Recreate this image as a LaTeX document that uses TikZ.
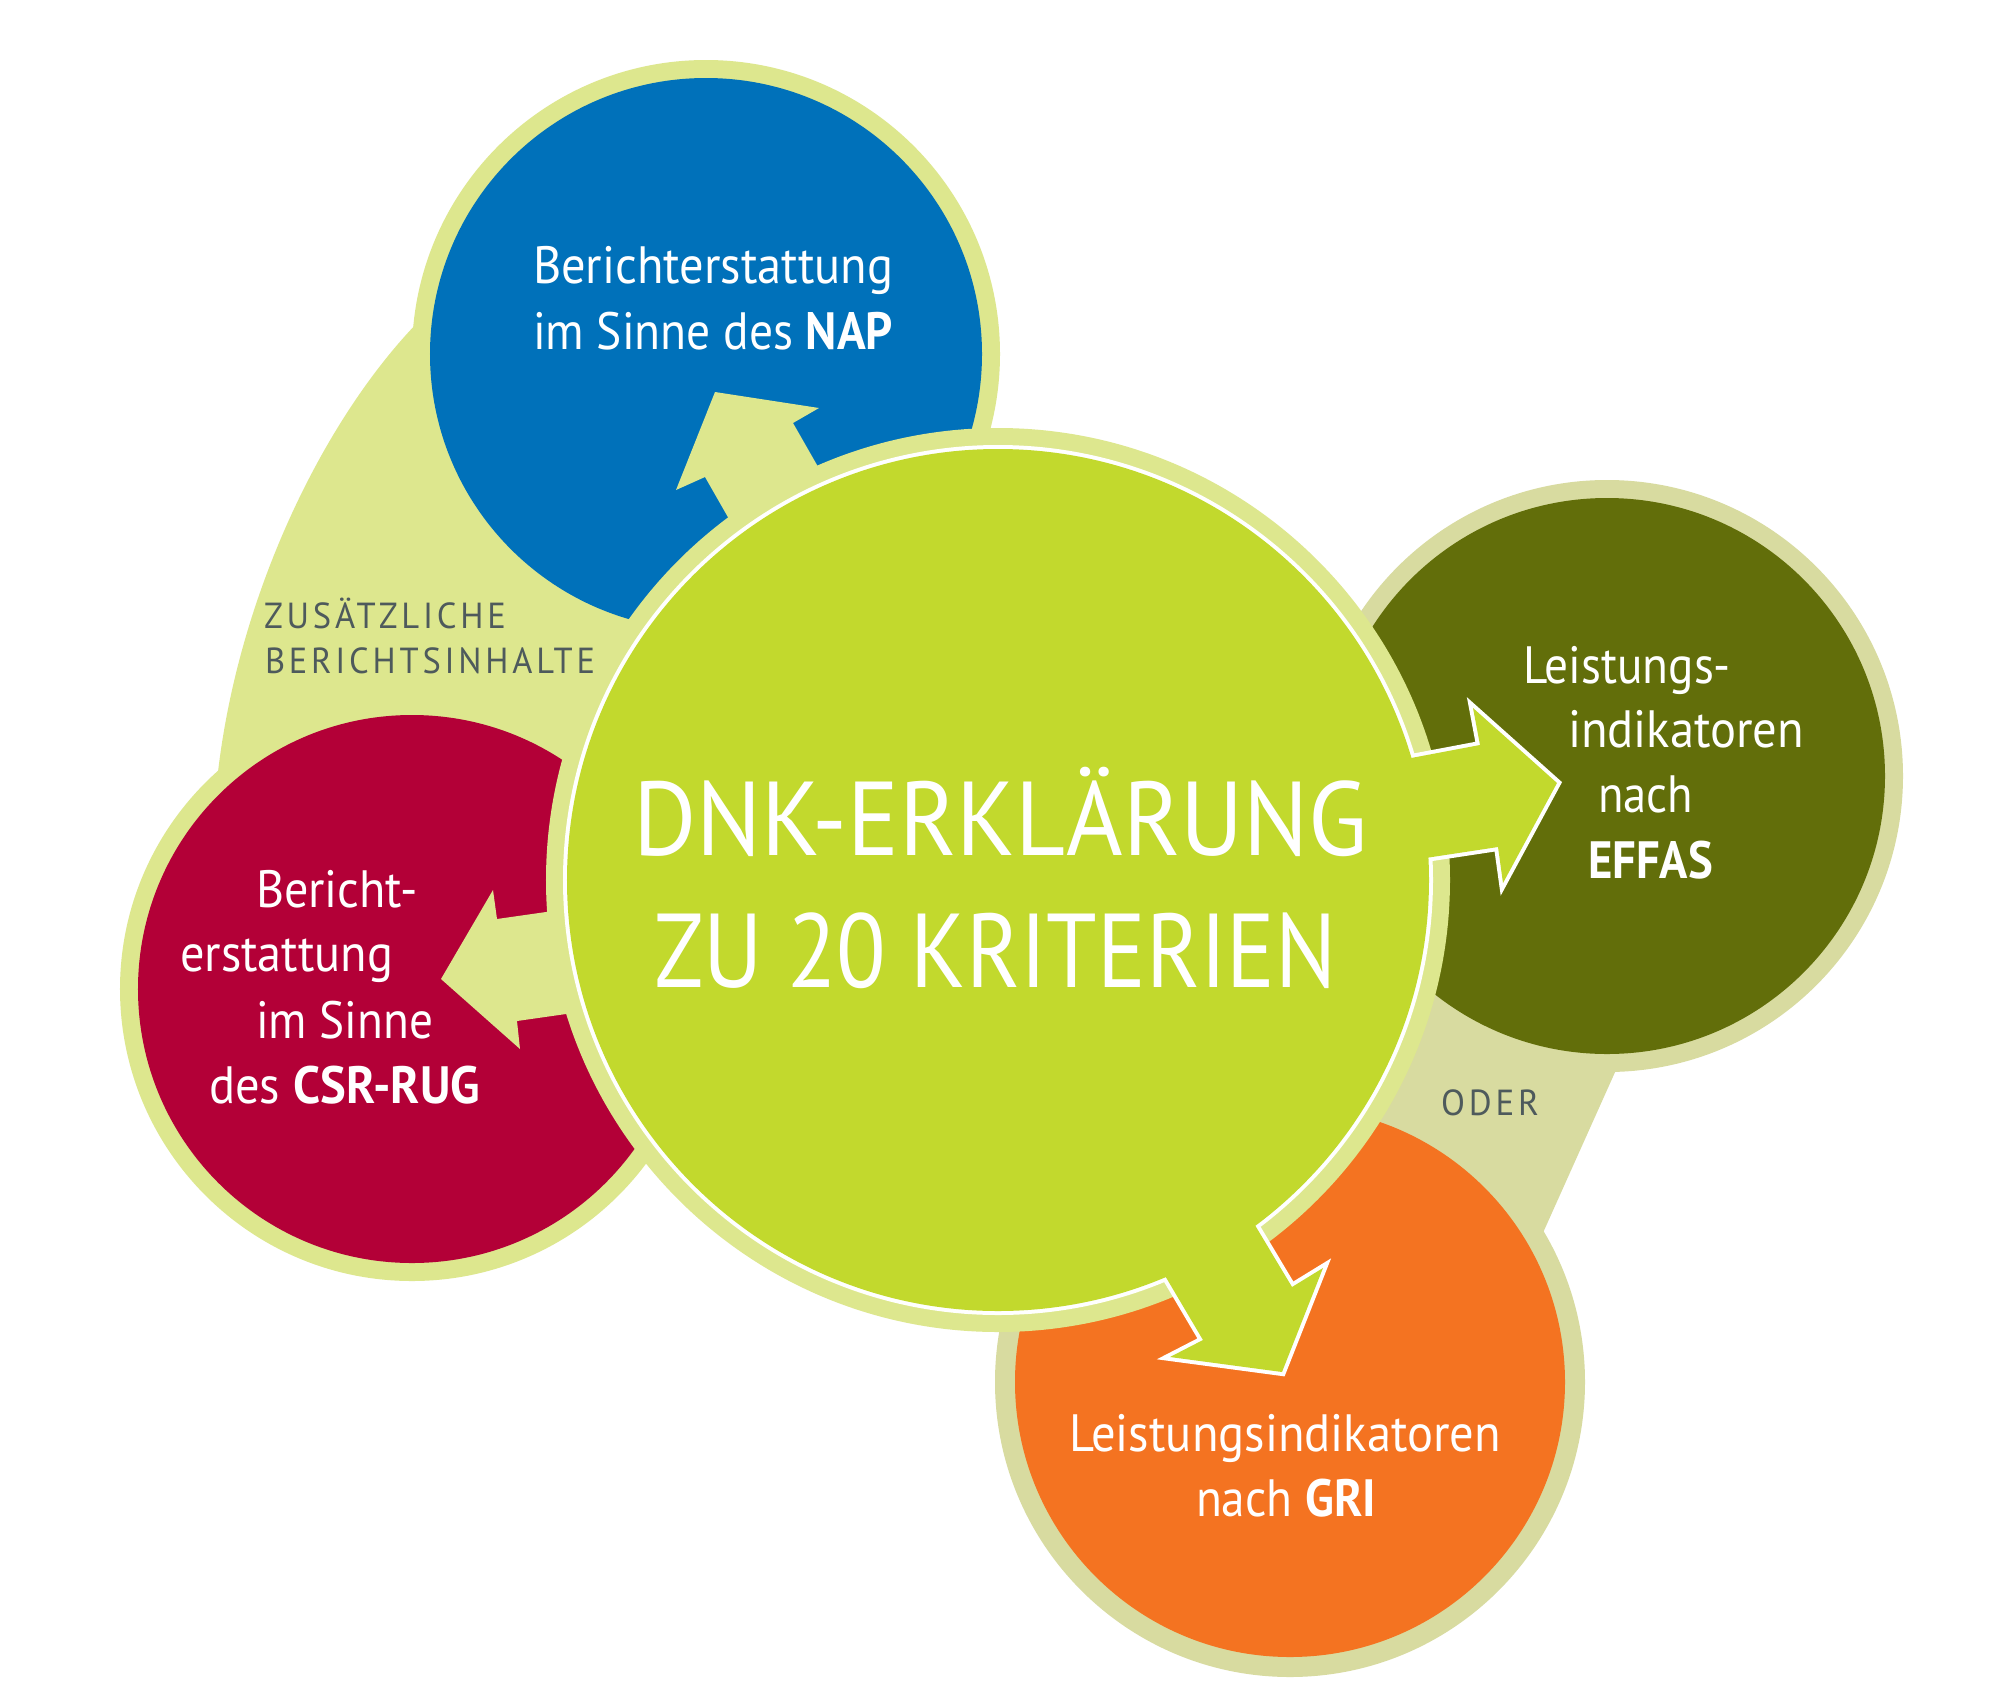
\documentclass[tikz,border=0pt]{standalone}
\usepackage{fontspec}
\usepackage{graphicx}
\setmainfont{PT Sans}
\newfontfamily\spacedfont[LetterSpace=11]{PT Sans}
\definecolor{cblue}{HTML}{0071BA}
\definecolor{cred}{HTML}{B30037}
\definecolor{colive}{HTML}{626E0A}
\definecolor{corange}{HTML}{F47321}
\definecolor{cgreen}{HTML}{C2D92D}
\definecolor{clight}{HTML}{DDE78E}
\definecolor{ckhaki}{HTML}{D8DBA0}
\definecolor{cgray}{HTML}{4E5A5C}
\newsavebox\fitbox
\newcommand\fitw[2]{\sbox\fitbox{#2}\pgfmathsetmacro\fitsc{#1/\the\wd\fitbox}\scalebox{\fitsc}[1]{\usebox\fitbox}}
\tikzset{
  lbl/.style={inner sep=0pt, outer sep=0pt, anchor=base west, text=white, font=\fontsize{21}{23}\selectfont},
  bigtxt/.style={inner sep=0pt, outer sep=0pt, anchor=base west, text=white, font=\fontsize{42}{44}\selectfont},
  smalltxt/.style={inner sep=0pt, outer sep=0pt, anchor=base west, text=cgray, font=\spacedfont\fontsize{14.5}{16}\selectfont},
  outline/.style={draw=white, line width=3.2pt, line join=miter}
}
\begin{document}
\begin{tikzpicture}[x=0.4pt,y=-0.4pt]
\fill[white] (0,0) rectangle (2002,1701);
\useasboundingbox (0,0) rectangle (2002,1701);
\coordinate (cNAP) at (706,354);
\coordinate (cCSR) at (412,989);
\coordinate (cEFF) at (1607,776);
\coordinate (cGRI) at (1290,1382);
\coordinate (cDNK) at (998,880);
% background blobs
\fill[clight] (217,781) .. controls (236,600) and (322,420) .. (420,320) -- (cNAP) -- (cDNK) -- (cCSR) -- cycle;
\fill[ckhaki] (cEFF) -- (1616,1070) -- (1542,1235) -- (cGRI) -- (cDNK) -- cycle;
% outer circles
\fill[clight] (cNAP) circle[radius=117.6pt];
\fill[cblue] (cNAP) circle[radius=110.4pt];
\fill[clight] (cCSR) circle[radius=116.8pt];
\fill[cred] (cCSR) circle[radius=109.6pt];
\fill[ckhaki] (cEFF) circle[radius=118.4pt];
\fill[colive] (cEFF) circle[radius=111.2pt];
\fill[ckhaki] (cGRI) circle[radius=118pt];
\fill[corange] (cGRI) circle[radius=110pt];
% light arrows
\fill[clight] (715,392) -- (819,408) -- (793,423) -- (889,591) -- (801,645) -- (705,477) -- (676,490) -- cycle;
\fill[clight] (441,979) -- (493,890) -- (497,919) -- (644,898) -- (664,1000) -- (517,1021) -- (520,1049) -- cycle;
% central circle
\fill[clight] (cDNK) circle[radius=180.8pt];
\path[outline] (cDNK) circle[radius=172.4pt]
  (1300,779) -- (1480,745) -- (1473,708) -- (1557,783) -- (1503,883) -- (1498,847) -- (1320,874) -- cycle
  (1204,1140) -- (1292,1287) -- (1323,1268) -- (1282,1372) -- (1170,1357) -- (1203,1340) -- (1115,1191) -- cycle;
\fill[cgreen] (cDNK) circle[radius=172.4pt];
\fill[cgreen] (1300,779) -- (1480,745) -- (1473,708) -- (1557,783) -- (1503,883) -- (1498,847) -- (1320,874) -- cycle;
\fill[cgreen] (1204,1140) -- (1292,1287) -- (1323,1268) -- (1282,1372) -- (1170,1357) -- (1203,1340) -- (1115,1191) -- cycle;
% texts
\node[lbl] (napA) at (533,283) {\fitw{144pt}{Berichterstattung}};
\node[lbl] (napB) at (533,349) {\fitw{144pt}{im Sinne des \textbf{NAP}}};
\node[lbl] (csrA) at (256,907) {\fitw{64.8pt}{Bericht-}};
\node[lbl] (csrB) at (180,971) {\fitw{85.2pt}{erstattung}};
\node[lbl] (csrC) at (256,1038) {\fitw{70.8pt}{im Sinne}};
\node[lbl] (csrD) at (209,1103) {\fitw{108.4pt}{des \textbf{CSR-RUG}}};
\node[lbl] (effA) at (1523,683) {\fitw{83.2pt}{Leistungs-}};
\node[lbl] (effB) at (1568,747) {\fitw{94.4pt}{indikatoren}};
\node[lbl] (effC) at (1598,812) {\fitw{38pt}{nach}};
\node[lbl] (effD) at (1588,878) {\fitw{50pt}{\textbf{EFFAS}}};
\node[lbl] (griA) at (1069,1451) {\fitw{172.8pt}{Leistungsindikatoren}};
\node[lbl] (griB) at (1196,1516) {\fitw{72pt}{nach \textbf{GRI}}};
\node[bigtxt] (dnkA) at (633,855) {\fitw{294pt}{DNK-ERKLÄRUNG}};
\node[bigtxt] (dnkB) at (654,987) {\fitw{273.2pt}{ZU 20 KRITERIEN}};
\node[smalltxt] (zus) at (264,628) {\fitw{96.8pt}{ZUSÄTZLICHE}};
\node[smalltxt] (ber) at (265,673) {\fitw{132pt}{BERICHTSINHALTE}};
\node[smalltxt] (oder) at (1441,1115) {\fitw{39.2pt}{ODER}};
\end{tikzpicture}
\end{document}
